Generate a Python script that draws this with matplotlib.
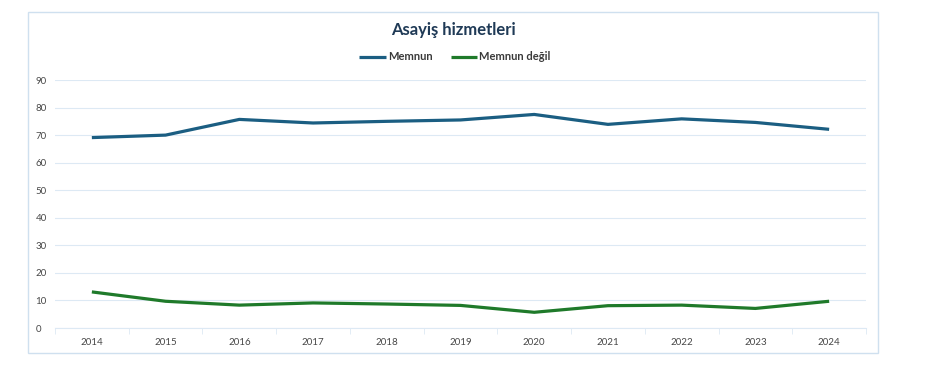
import numpy as np
import matplotlib.pyplot as plt
from matplotlib.patches import Rectangle

# Veriler
years = ['2014', '2015', '2016', '2017', '2018', '2019', '2020', '2021', '2022', '2023', '2024']
memnun = [69.1, 70.0, 75.7, 74.4, 75.0, 75.5, 77.5, 73.9, 75.9, 74.6, 72.1]
memnun_degil = [13.1, 9.7, 8.3, 9.1, 8.7, 8.2, 5.7, 8.1, 8.3, 7.1, 9.7]
y_ticks = [0, 10, 20, 30, 40, 50, 60, 70, 80, 90]

blue = '#1b5e82'
green = '#1f7a2a'
grid_col = '#dde9f4'

plt.rcParams['font.family'] = ['Lato', 'DejaVu Sans']

fig = plt.figure(figsize=(9.44, 3.66), dpi=100)
fig.patches.append(Rectangle((28 / 944, 1 - 353 / 366), 850 / 944, 341 / 366,
                             transform=fig.transFigure, fill=False,
                             edgecolor='#cfe0ef', linewidth=1.0))

ax = fig.add_axes([55 / 944, 38 / 366, 811 / 944, 248 / 366])
x = np.arange(len(years))
ax.plot(x, memnun, color=blue, lw=2.3, label='Memnun', solid_capstyle='butt')
ax.plot(x, memnun_degil, color=green, lw=2.3, label='Memnun değil', solid_capstyle='butt')

ax.set_xlim(-0.5, len(years) - 0.5)
ax.set_ylim(0, 90)
ax.set_yticks(y_ticks)
ax.set_xticks(x)
ax.set_xticklabels(years)
ax.set_xticks(np.arange(-0.5, len(years)), minor=True)
ax.tick_params(axis='x', which='major', length=0, pad=7, labelsize=7, labelcolor='#474747')
ax.tick_params(axis='x', which='minor', length=4, color=grid_col)
ax.tick_params(axis='y', length=0, labelsize=7, labelcolor='#474747')
for lab in ax.get_yticklabels():
    lab.set_horizontalalignment('left')
ax.yaxis.set_tick_params(pad=14)
ax.grid(axis='y', color=grid_col, lw=0.8)
ax.set_axisbelow(True)
for s in ['top', 'right', 'left']:
    ax.spines[s].set_visible(False)
ax.spines['bottom'].set_color(grid_col)

fig.text(453 / 944, 1 - 30 / 366, 'Asayiş hizmetleri', ha='center', va='center',
         fontsize=12, fontweight='bold', color='#1f3a56')
fig.legend(loc='center', bbox_to_anchor=(455 / 944, 1 - 57 / 366), ncol=2, frameon=False,
           handlelength=2.4, handletextpad=0.2, columnspacing=1.6,
           prop={'weight': 'bold', 'size': 8})
for t in fig.legends[0].get_texts():
    t.set_color('#3a3a3a')

fig.savefig('out.png', dpi=100, facecolor='white')
